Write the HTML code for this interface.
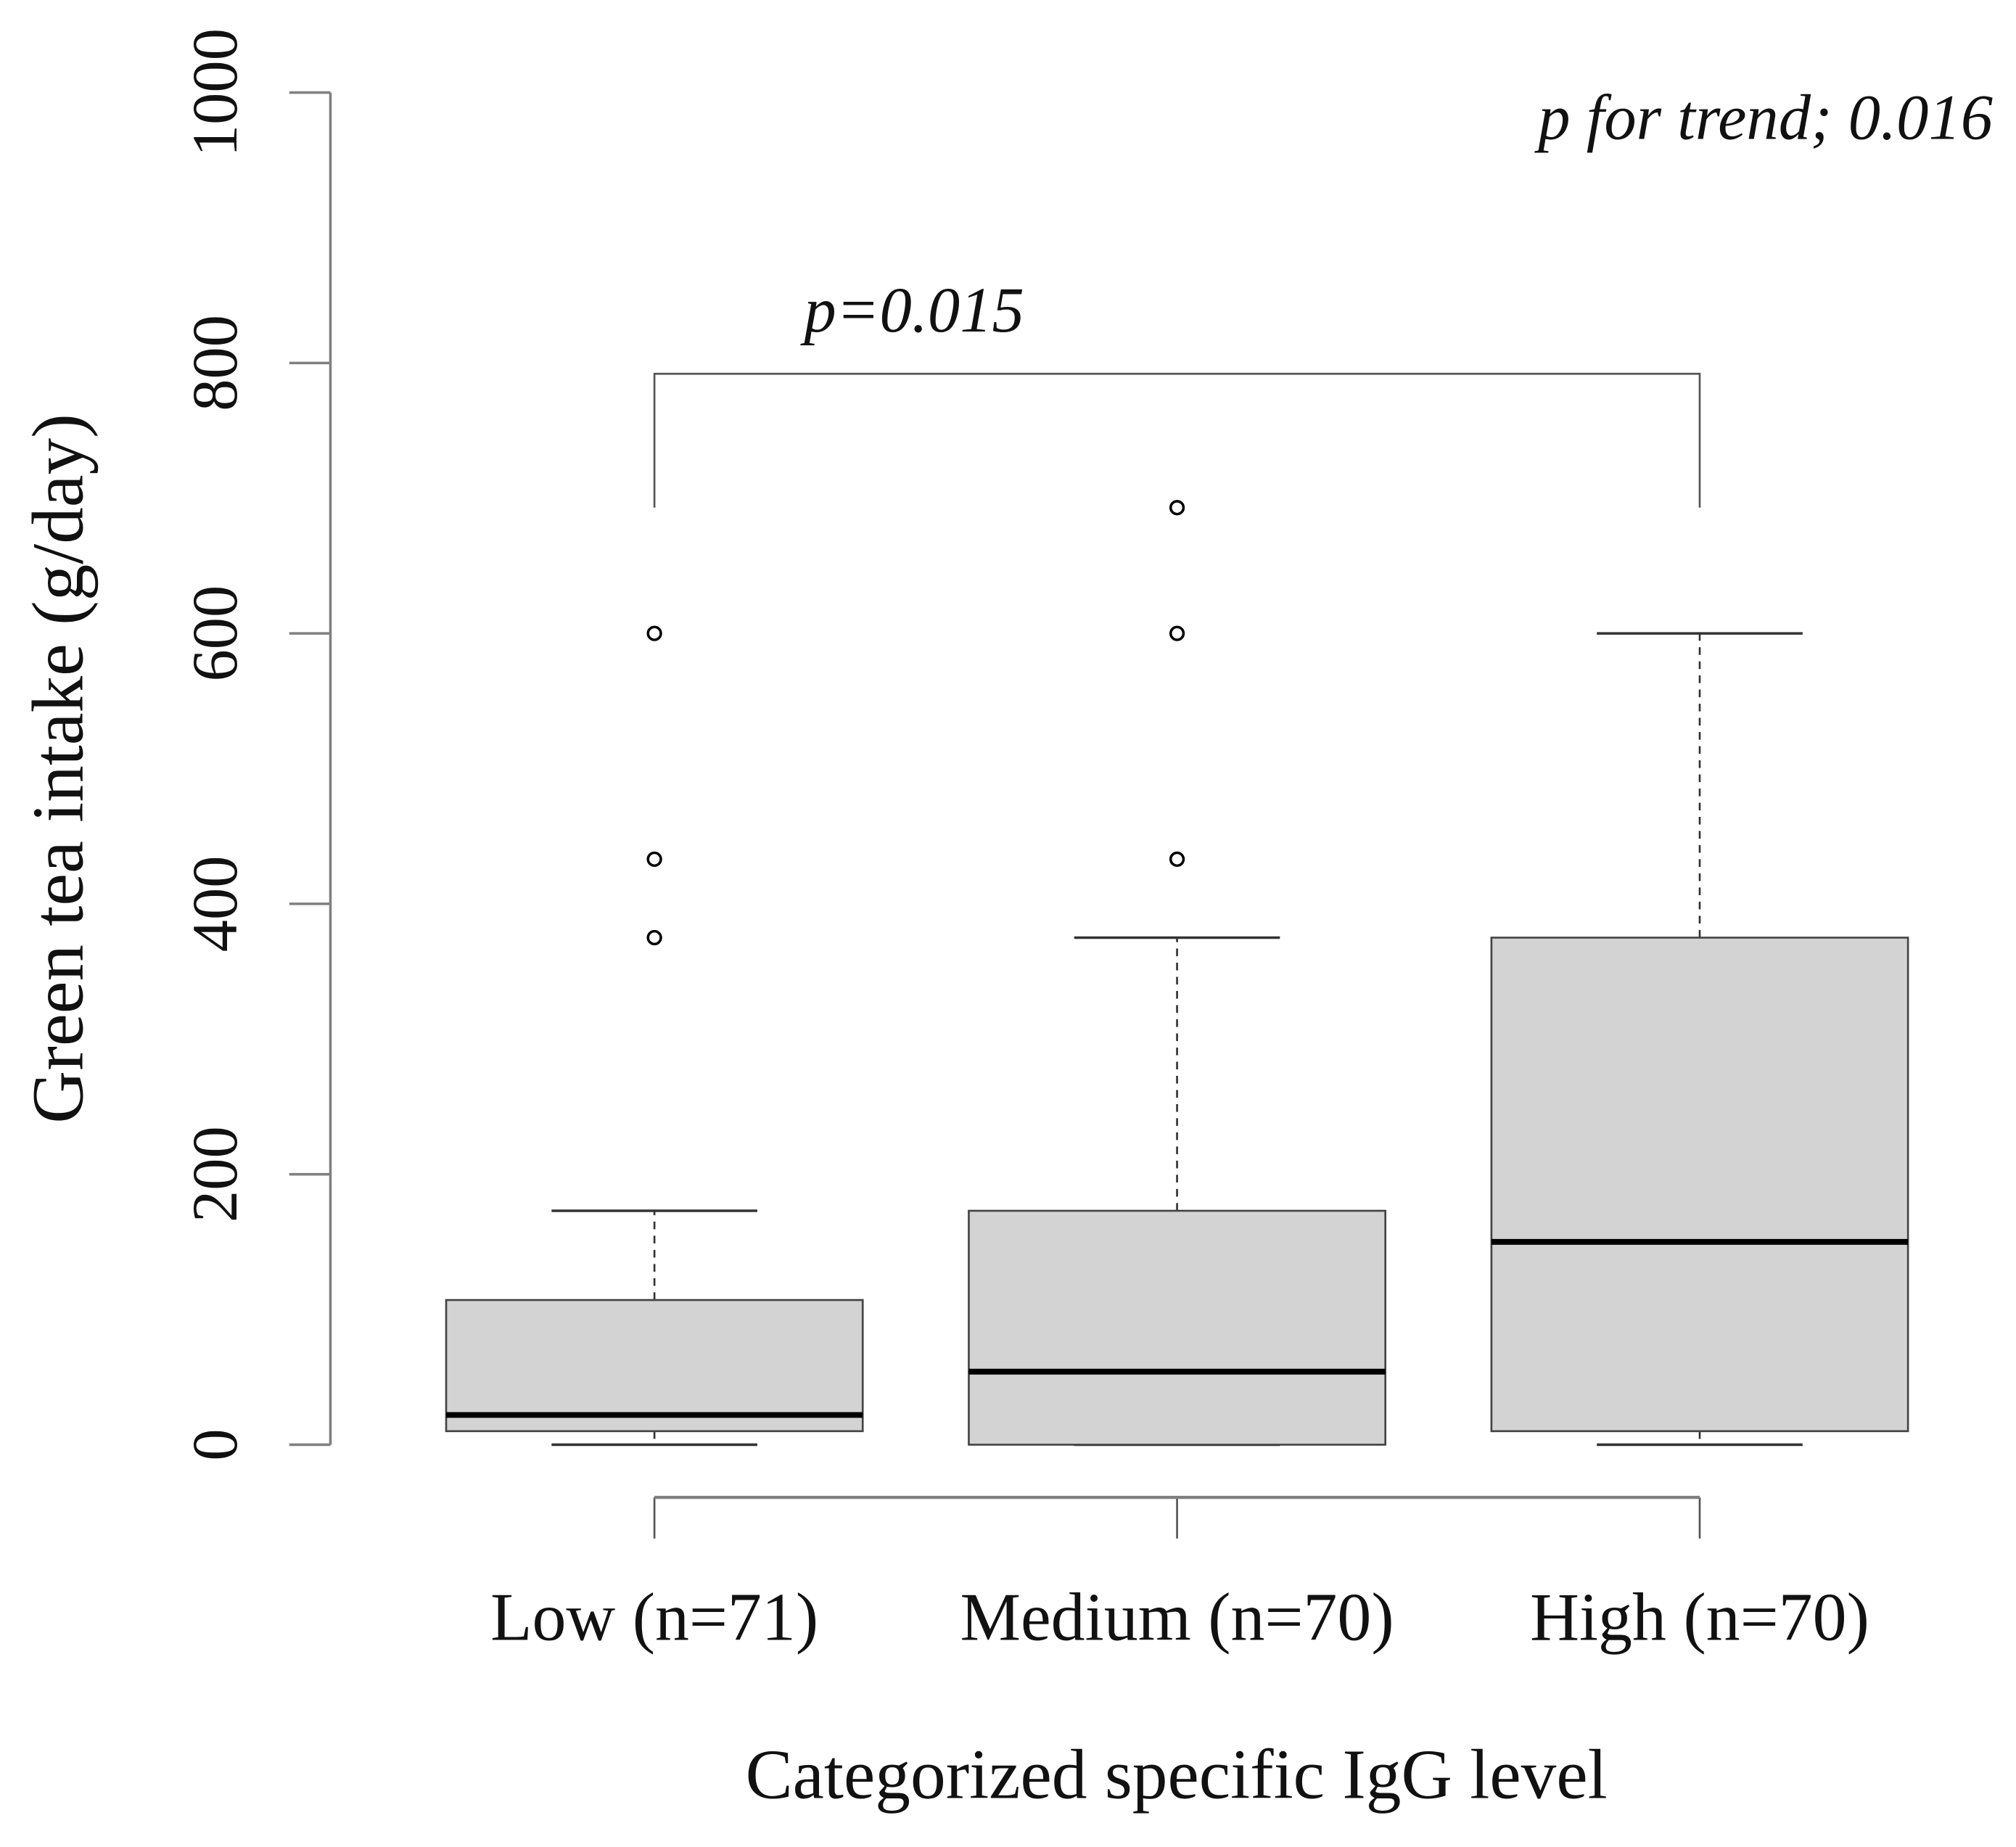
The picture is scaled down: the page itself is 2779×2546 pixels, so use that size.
<!DOCTYPE html>
<html><head><meta charset="utf-8"><style>
html,body{margin:0;padding:0;background:#fff}
svg{display:block}
text{font-family:"Liberation Serif",serif;fill:#111}
</style></head><body>
<svg id="chart" width="2779" height="2546" viewBox="0 0 1568 1437" preserveAspectRatio="none" xmlns="http://www.w3.org/2000/svg">
<g id="g"></g>
</svg>
<script>
const categories=["Low (n=71)","Medium (n=70)","High (n=70)"];
const mins=[0,0,0];
const q1s=[10,0,10];
const medians=[22,54,150];
const q3s=[107,173,375];
const maxs=[173,375,600];
const outliers=[[375,433,600],[433,600,693],[]];
const yTicks=[0,200,400,600,800,1000];
const bracketValue=792, bracketLegValue=693;

const NS="http://www.w3.org/2000/svg";
const g=document.getElementById('g');
function y(v){return 1124-(v/1000)*1052;}
function x(i){return 509+i*406.5;}
function el(tag,attrs,parent){const e=document.createElementNS(NS,tag);for(const k in attrs)e.setAttribute(k,attrs[k]);(parent||g).appendChild(e);return e;}

let ax=el('line',{x1:257,y1:y(0),x2:257,y2:y(1000),stroke:'#808080','stroke-width':2});


yTicks.forEach(t=>{
  let tk=el('line',{x1:225,y1:y(t),x2:257,y2:y(t),stroke:'#808080','stroke-width':2});
  
  
  let tl=el('text',{x:0,y:0,'font-size':50,'text-anchor':'middle',transform:`translate(184,${y(t)}) rotate(-90)`});
  tl.textContent=t;
  
  
});
let yt=el('text',{x:0,y:0,'font-size':57,'text-anchor':'middle',transform:'translate(64,598) rotate(-90)'});
yt.textContent='Green tea intake (g/day)';



categories.forEach((c,i)=>{
  const cx=x(i), hw=162, cw=80;
  let wl=el('line',{x1:cx,y1:y(q3s[i]),x2:cx,y2:y(maxs[i]),stroke:'#333','stroke-width':1.5,'stroke-dasharray':'6,5'});
  
  
  let wu=el('line',{x1:cx,y1:y(q1s[i]),x2:cx,y2:y(mins[i]),stroke:'#333','stroke-width':1.5,'stroke-dasharray':'6,5'});
  
  
  let cu=el('line',{x1:cx-cw,y1:y(maxs[i]),x2:cx+cw,y2:y(maxs[i]),stroke:'#333','stroke-width':2});
  
  
  let cl=el('line',{x1:cx-cw,y1:y(mins[i]),x2:cx+cw,y2:y(mins[i]),stroke:'#333','stroke-width':2});
  
  
  let b=el('rect',{x:cx-hw,y:y(q3s[i]),width:2*hw,height:y(q1s[i])-y(q3s[i]),fill:'#d3d3d3',stroke:'#444','stroke-width':1.5});
  
  
  let m=el('line',{x1:cx-hw,y1:y(medians[i]),x2:cx+hw,y2:y(medians[i]),stroke:'#000','stroke-width':4.5});
  
  
  outliers[i].forEach(o=>{
    let p=el('circle',{cx:cx,cy:y(o),r:5,fill:'none',stroke:'#000','stroke-width':2});
    
    
  });
  let lab=el('text',{x:cx,y:1276,'font-size':53,'text-anchor':'middle'});
  lab.textContent=c;
  
  
  let bt=el('line',{x1:cx,y1:1165,x2:cx,y2:1197,stroke:'#555','stroke-width':1.5});
  
  
});
let xl=el('line',{x1:x(0),y1:1165,x2:x(2),y2:1165,stroke:'#808080','stroke-width':2.5});


let xt=el('text',{x:915,y:1399,'font-size':55,'text-anchor':'middle'});
xt.textContent='Categorized specific IgG level';



let br=el('polyline',{points:`${x(0)},${y(bracketLegValue)} ${x(0)},${y(bracketValue)} ${x(2)},${y(bracketValue)} ${x(2)},${y(bracketLegValue)}`,fill:'none',stroke:'#555','stroke-width':1.5});


let pv=el('text',{x:711,y:258,'font-size':50,'font-style':'italic','text-anchor':'middle'});
pv.textContent='p=0.015';


let pt=el('text',{x:1550,y:108,'font-size':50,'font-style':'italic','text-anchor':'end'});
pt.textContent='p for trend; 0.016';


</script>
</body></html>
